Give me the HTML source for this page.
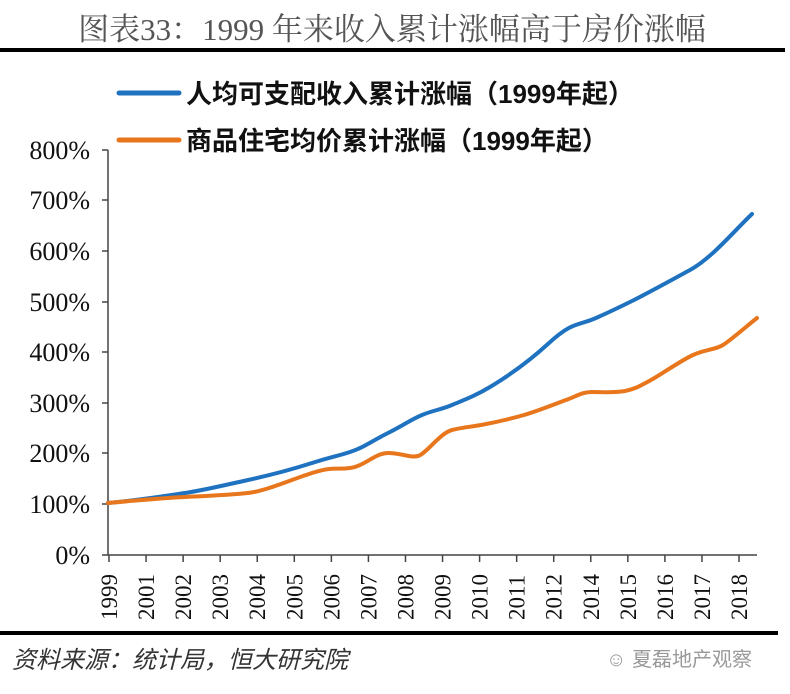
<!DOCTYPE html>
<html><head><meta charset="utf-8"><style>
html,body{margin:0;padding:0;background:#fff;width:790px;height:694px;overflow:hidden}
</style></head><body>
<svg width="790" height="694" xmlns="http://www.w3.org/2000/svg">
<text x="392" y="40" text-anchor="middle" font-family="Liberation Serif, Noto Serif CJK SC, serif" font-size="31" fill="#555">图表33：1999 年来收入累计涨幅高于房价涨幅</text>
<rect x="0" y="48" width="785" height="4" fill="#000"/>
<line x1="119" y1="93" x2="179" y2="93" stroke="#1f72c0" stroke-width="5" stroke-linecap="round"/>
<text x="186" y="103" font-family="Liberation Sans, Noto Sans CJK SC, sans-serif" font-size="26" font-weight="bold" fill="#111">人均可支配收入累计涨幅（1999年起）</text>
<line x1="119" y1="140" x2="179" y2="140" stroke="#e8761c" stroke-width="5" stroke-linecap="round"/>
<text x="186" y="150" font-family="Liberation Sans, Noto Sans CJK SC, sans-serif" font-size="26" font-weight="bold" fill="#111">商品住宅均价累计涨幅（1999年起）</text>
<g font-family="Liberation Serif, serif" font-size="26" fill="#111" text-anchor="end">
<text x="90" y="159">800%</text><text x="90" y="209">700%</text><text x="90" y="260">600%</text><text x="90" y="311">500%</text><text x="90" y="361">400%</text><text x="90" y="412">300%</text><text x="90" y="462">200%</text><text x="90" y="513">100%</text><text x="90" y="564">0%</text>
</g>
<g stroke="#444" stroke-width="1.5">
<line x1="108" y1="150" x2="108" y2="555"/>
<line x1="102" y1="555" x2="757" y2="555"/>
<line x1="102" y1="150" x2="108" y2="150"/><line x1="102" y1="200" x2="108" y2="200"/><line x1="102" y1="251" x2="108" y2="251"/><line x1="102" y1="302" x2="108" y2="302"/><line x1="102" y1="352" x2="108" y2="352"/><line x1="102" y1="403" x2="108" y2="403"/><line x1="102" y1="453" x2="108" y2="453"/><line x1="102" y1="504" x2="108" y2="504"/>
</g>
<g id="ticks" stroke="#444" stroke-width="1.5"></g>
<g font-family="Liberation Serif, serif" font-size="23" fill="#111" id="xl"></g>
<path d="M108,503 C140,500 165,496 185,493 S225,485 248,480 S290,470 312,463 S335,457 350,452 S370,442 388,433 S410,420 422,415 S440,410 452,405 S475,396 490,387 S525,365 549,343 S578,326 596,318 S620,307 634,300 S668,282 690,270 S735,230 752,214" fill="none" stroke="#1f72c0" stroke-width="4" stroke-linecap="round"/>
<path d="M108,503 C140,500 165,498 185,497 S230,495 248,493 S290,480 312,473 S335,470 350,468 S375,453 388,453 S410,458 418,456 S440,433 452,430 S470,427 481,425 S510,419 524,415 S555,404 566,400 S582,392 592,392 S615,393 625,391 S640,386 651,380 S680,361 693,355 S715,350 723,345 S748,325 757,318" fill="none" stroke="#e8761c" stroke-width="4" stroke-linecap="round"/>
<rect x="0" y="631" width="778" height="4" fill="#000"/>
<text x="12" y="668" font-family="Liberation Sans, Noto Sans CJK SC, sans-serif" font-size="24" font-style="italic" fill="#333">资料来源：统计局，恒大研究院</text>
<text x="606" y="666" font-family="Liberation Sans, Noto Sans CJK SC, sans-serif" font-size="20" fill="#999">☺ 夏磊地产观察</text>
<script>
var years=["1999","2001","2002","2003","2004","2005","2006","2007","2008","2009","2010","2011","2012","2014","2015","2016","2017","2018"];
var t=document.getElementById("ticks"),l=document.getElementById("xl"),ns="http://www.w3.org/2000/svg";
years.forEach(function(y,i){var x=109+i*37.06;
var ln=document.createElementNS(ns,"line");ln.setAttribute("x1",x);ln.setAttribute("x2",x);ln.setAttribute("y1",555);ln.setAttribute("y2",562);t.appendChild(ln);
var tx=document.createElementNS(ns,"text");tx.setAttribute("transform","translate("+(x+8)+",620) rotate(-90)");tx.textContent=y;l.appendChild(tx);});
</script>
</svg>
</body></html>
